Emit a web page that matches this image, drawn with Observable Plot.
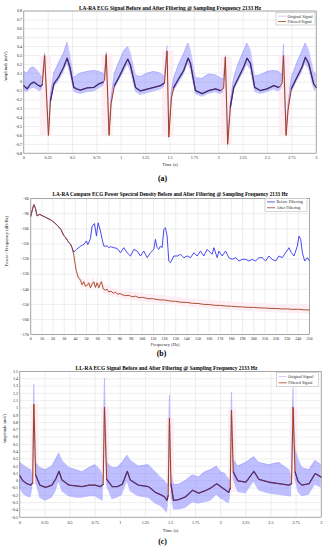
<!DOCTYPE html>
<html><head><meta charset="utf-8">
<script src="https://cdn.jsdelivr.net/npm/d3@7"></script>
<script src="https://cdn.jsdelivr.net/npm/@observablehq/plot@0.6"></script>
<style>
body{margin:0;background:#fff}
#wrap{position:relative;width:325px;height:550px;overflow:hidden}
#wrap svg{position:absolute;left:0}
</style>
</head><body><div id="wrap"></div>
<script>
// ---------------- Panel (a): LA-RA ECG ----------------
const titleA = "LA-RA ECG Signal Before and After Filtering @ Sampling Frequency 2133 Hz";
const timeA = [0,0.034,0.07,0.103,0.14,0.17,0.19,0.214,0.253,0.274,0.308,0.359,0.41,0.445,0.472,0.513,0.55,0.581,0.65,0.718,0.77,0.814,0.828,0.846,0.875,0.896,0.93,0.974,1.026,1.067,1.094,1.146,1.197,1.265,1.334,1.402,1.443,1.47,1.488,1.515,1.539,1.59,1.64,1.686,1.71,1.761,1.83,1.898,1.966,2.017,2.05,2.068,2.092,2.12,2.154,2.205,2.256,2.29,2.325,2.369,2.427,2.496,2.564,2.615,2.65,2.665,2.691,2.711,2.745,2.803,2.855,2.889,2.923,2.974,3.0];
const filteredA = [-0.04,-0.075,-0.02,0.0,-0.03,-0.05,-0.03,0.30,-0.60,-0.21,-0.02,0.06,0.17,0.27,0.17,-0.06,-0.08,-0.09,-0.065,-0.06,-0.02,0.0,0.02,0.31,-0.60,-0.24,-0.04,0.05,0.17,0.26,0.19,-0.06,-0.10,-0.08,-0.06,-0.04,-0.01,0.35,-0.62,-0.17,-0.06,0.04,0.13,0.27,0.21,-0.095,-0.13,-0.095,-0.076,-0.095,-0.07,0.28,-0.70,-0.28,-0.06,0.055,0.17,0.27,0.21,-0.06,-0.095,-0.076,-0.04,-0.06,-0.02,0.30,-0.60,-0.32,-0.076,0.055,0.17,0.28,0.21,-0.02,-0.06];
const origLowA = [-0.10,-0.12,-0.08,-0.07,-0.09,-0.11,-0.08,0.26,-0.65,-0.28,-0.07,0.0,0.10,0.20,0.10,-0.11,-0.13,-0.14,-0.12,-0.11,-0.08,-0.05,-0.03,0.27,-0.64,-0.30,-0.09,0.0,0.10,0.19,0.12,-0.11,-0.15,-0.13,-0.11,-0.09,-0.06,0.30,-0.68,-0.24,-0.11,-0.02,0.07,0.20,0.14,-0.14,-0.17,-0.14,-0.12,-0.14,-0.12,0.24,-0.78,-0.34,-0.11,0.0,0.10,0.19,0.14,-0.11,-0.14,-0.12,-0.09,-0.11,-0.07,0.26,-0.65,-0.38,-0.13,0.0,0.10,0.20,0.14,-0.08,-0.11];
const origHighA = [0.12,0.10,0.16,0.17,0.13,0.08,0.05,0.33,-0.55,-0.14,0.10,0.22,0.33,0.45,0.32,0.05,0.08,0.10,0.12,0.13,0.12,0.10,0.08,0.34,-0.56,-0.18,0.10,0.22,0.35,0.40,0.33,0.08,0.06,0.10,0.12,0.10,0.06,0.41,-0.58,-0.10,0.05,0.20,0.32,0.44,0.36,0.05,0.04,0.09,0.08,0.05,0.03,0.30,-0.64,-0.22,0.05,0.22,0.35,0.44,0.36,0.07,0.08,0.12,0.13,0.12,0.08,0.43,-0.55,-0.26,0.05,0.22,0.35,0.44,0.36,0.12,0.08];
const rPeaksA = [0.214,0.846,1.47,2.068,2.665];
const yTicksA = [-0.8,-0.7,-0.6,-0.5,-0.4,-0.3,-0.2,-0.1,0,0.1,0.2,0.3,0.4,0.5,0.6,0.7,0.8];
const timeTicks = [0,0.25,0.5,0.75,1,1.25,1.5,1.75,2,2.25,2.5,2.75,3];

// ---------------- Panel (b): PSD ----------------
const titleB = "LA-RA Compare ECG Power Spectral Density Before and After Filtering @ Sampling Frequency 2133 Hz";
const freqBefore = [0,1.5,2.7,4,5.7,7,8.1,10,13,17.7,21,25.2,27,29.6,31,34,35.5,37,38.6,41,44.6,47.6,49.9,51.1,53.5,55,57.1,58.9,60.4,62.5,64,65.5,68.5,70,71.5,74.5,77.5,80.4,83.4,86.4,89.4,92.4,95.4,98.4,101.4,104.4,107.4,110.3,111.8,113.3,114.8,116.3,117.8,119.3,120.8,122.3,123.8,125.3,128.3,131.3,134.3,137.3,140.3,143.3,146.3,149.2,152.2,155.2,158.2,159.7,162.7,164.2,167.2,168.7,171.7,174.7,177.7,180.7,183.7,186.7,189.7,192.7,195.7,198.6,201.6,204.6,207.6,210.6,213.6,216.6,219.6,222.6,225.6,228.6,231.6,233.7,236.1,239.1,240.6,242.1,243.6,245.7,248,250];
const psdBefore = [-91.6,-87,-84,-86,-91.5,-90.8,-90.5,-91.2,-92.3,-94,-95.8,-98.8,-100.5,-104.5,-105.5,-109,-110,-112.5,-115.4,-113.6,-111.5,-110.3,-108,-110.5,-106.5,-98.2,-96.5,-104.8,-96,-101.5,-107,-111.4,-111.4,-112.5,-111.8,-112.5,-113,-115.8,-112.5,-115.8,-118,-113.6,-114.7,-118,-114.7,-119.1,-115.8,-113.6,-107,-112.5,-113.6,-111.4,-112.5,-100.4,-99.3,-104.8,-121.3,-122.4,-118,-118,-116.9,-119.1,-118,-119.1,-115.8,-118,-114.7,-118,-113.6,-114.7,-116.9,-112.5,-119.1,-114.7,-118,-114.7,-119.1,-120.2,-119.1,-121.3,-120.2,-120.2,-121.3,-120.2,-121.3,-119.1,-119.1,-121.3,-118,-120.2,-121.3,-118,-119.1,-115.8,-112.5,-115.8,-118,-111.4,-104.8,-107,-115.8,-121.3,-119.1,-121.3];
const freqAfter = [0,1.5,2.7,4,5.7,7,8.1,10,13,17.7,21,25.2,27,29.6,31,34,35.5,37,38.6,39.5,40.7,42.5,44.6,46,47.5,49,50.5,52,53.5,55,56.5,58,59.5,61,62.5,63.4,65,67,68.5,70,72,74,76,78,80,82,85,88,91,94,97,100,105,110,115,120,125,130,135,140,145,150,155,160,165,170,175,180,185,190,195,200,205,210,215,220,225,230,235,240,245,250];
const psdAfter = [-91.6,-87,-84,-86,-91.5,-90.8,-90.5,-91.2,-92.3,-94,-95.8,-98.8,-100.5,-104.5,-105.5,-109,-110,-112.5,-117.5,-122,-127.6,-132,-134,-137,-135,-138,-137.5,-135.7,-139,-136.5,-135,-138.8,-135.7,-139,-136,-135,-139.8,-140.5,-140,-141.8,-141.2,-142.6,-142,-143.3,-142.8,-143.6,-144.2,-144,-145,-144.6,-145.6,-145.3,-146.2,-146.3,-147,-147.1,-147.8,-148,-148.6,-148.7,-149.3,-149.4,-150,-150.1,-150.6,-150.7,-151.1,-151.2,-151.6,-151.7,-152,-152,-152.3,-152.4,-152.7,-152.7,-153,-153,-153.3,-153.2,-153.6,-153.7];
const freqTicks = [0,10,20,30,40,50,60,70,80,90,100,110,120,130,140,150,160,170,180,190,200,210,220,230,240,250];
const psdTicks = [-170,-160,-150,-140,-130,-120,-110,-100,-90,-80];

// ---------------- Panel (c): LL-RA ECG ----------------
const titleC = "LL-RA ECG Signal Before and After Filtering @ Sampling Frequency 2133 Hz";
const timeC = [0,0.03,0.07,0.11,0.128,0.14,0.158,0.2,0.255,0.32,0.36,0.39,0.42,0.49,0.56,0.62,0.69,0.75,0.8,0.83,0.843,0.865,0.92,0.97,1.02,1.07,1.1,1.18,1.28,1.35,1.4,1.44,1.465,1.477,1.49,1.505,1.53,1.58,1.65,1.72,1.78,1.84,1.9,1.96,2.0,2.04,2.08,2.095,2.107,2.125,2.17,2.25,2.33,2.38,2.48,2.58,2.68,2.705,2.72,2.74,2.77,2.81,2.88,2.94,3.0];
const filteredC = [0.07,0.0,-0.04,-0.06,-0.03,1.05,0.08,-0.06,-0.09,-0.06,0.03,0.13,0.01,-0.06,-0.07,-0.08,-0.06,-0.06,-0.08,-0.05,1.01,0.02,-0.08,-0.08,-0.05,0.13,0.01,-0.06,-0.08,-0.16,-0.19,-0.22,-0.27,-0.20,0.86,-0.05,-0.27,-0.26,-0.22,-0.13,-0.17,-0.14,-0.10,-0.04,-0.08,-0.12,-0.16,-0.10,0.97,0.12,0.0,-0.02,0.13,0.02,-0.02,-0.04,-0.06,-0.04,1.01,0.12,-0.01,-0.06,-0.04,0.10,0.05];
const origLowC = [-0.10,-0.18,-0.22,-0.24,-0.12,0.98,-0.02,-0.24,-0.28,-0.24,-0.15,-0.02,-0.15,-0.22,-0.24,-0.24,-0.22,-0.22,-0.26,-0.28,0.95,-0.08,-0.26,-0.24,-0.20,-0.02,-0.15,-0.22,-0.24,-0.32,-0.35,-0.40,-0.45,-0.36,0.80,-0.20,-0.40,-0.40,-0.38,-0.30,-0.32,-0.30,-0.28,-0.20,-0.25,-0.28,-0.32,-0.25,0.90,0.02,-0.16,-0.18,-0.02,-0.14,-0.18,-0.20,-0.22,-0.22,0.95,0.02,-0.16,-0.22,-0.20,-0.06,-0.10];
const origHighC = [0.25,0.22,0.18,0.15,0.05,1.33,0.25,0.18,0.15,0.20,0.30,0.38,0.28,0.18,0.15,0.12,0.18,0.22,0.15,0.05,1.41,0.25,0.18,0.18,0.25,0.35,0.28,0.20,0.22,0.12,0.05,0.0,-0.05,-0.05,1.18,0.10,-0.05,-0.05,0.0,0.08,0.05,0.12,0.15,0.20,0.12,0.10,0.02,0.0,1.22,0.30,0.20,0.25,0.33,0.25,0.22,0.25,0.15,0.05,1.28,0.45,0.30,0.18,0.15,0.28,0.22];
const rPeaksC = [0.14,0.843,1.49,2.107,2.72];
const yTicksC = [-0.5,-0.4,-0.3,-0.2,-0.1,0,0.1,0.2,0.3,0.4,0.5,0.6,0.7,0.8,0.9,1,1.1,1.2,1.3,1.4,1.5];

// ---------------- Styles ----------------
const FONT = "'Liberation Serif','Times New Roman',serif";
const BAND = "#8080ff", CORE = "#2c2282", RED = "#a43e1c", BLUE = "#3434ee", PINK = "#fdeef4";
const GRID = "#dddddd", FRAME = "#7a7a7a", TXT = "#262626";
const fmt = d => String(+d.toFixed(2));

function addLegend(svg, x, y, w, h, items) {
  const s = d3.select(svg);
  const g = s.append("g").attr("font-family", FONT).style("font-size", "4.1px")
    .attr("fill", TXT).attr("text-anchor", "start");
  g.append("rect").attr("x", x).attr("y", y).attr("width", w).attr("height", h)
    .attr("fill", "white").attr("stroke", "#9a9a9a").attr("stroke-width", 0.4);
  items.forEach((it, i) => {
    const cy = y + h * (i + 0.5) / items.length + (i === 0 ? 0.4 : -0.4);
    g.append("line").attr("x1", x + 2).attr("x2", x + 10).attr("y1", cy).attr("y2", cy)
      .attr("stroke", it.color).attr("stroke-width", it.width);
    g.append("text").attr("x", x + 11.5).attr("y", cy).attr("dy", "0.35em")
      .attr("text-anchor", "start").text(it.label);
  });
}

function ecgPanel(o) {
  const rows = o.time.map((t, i) => ({t, f: o.filt[i], lo: o.lo[i], hi: o.hi[i]}));
  const inQRS = t => o.peaks.some(p => t >= p - o.win[0] && t <= p + o.win[1]);
  const bands = o.peaks.map(p => {
    const near = rows.filter(r => r.t >= p - 0.04 && r.t <= p + 0.06);
    return {x1: p - o.pink[0], x2: p + o.pink[1], y1: d3.min(near, r => r.f), y2: d3.max(near, r => r.f)};
  });
  const fw = 325 - o.ml - o.mr;
  const fc = o.ml + fw / 2;
  const svg = Plot.plot({
    width: 325, height: o.height,
    marginTop: o.mt, marginBottom: o.mb, marginLeft: o.ml, marginRight: o.mr,
    style: {fontFamily: FONT, fontSize: "4.2px", background: "transparent", color: TXT},
    x: {domain: [0, 3]},
    y: {domain: o.ydom},
    marks: [
      Plot.gridX(timeTicks, {stroke: GRID, strokeOpacity: 1, strokeWidth: 0.5}),
      Plot.gridY(o.yticks, {stroke: GRID, strokeOpacity: 1, strokeWidth: 0.5}),
      Plot.rect(bands, {x1: "x1", x2: "x2", y1: "y1", y2: "y2", fill: PINK}),
      Plot.areaY(rows, {x: "t", y1: "lo", y2: "hi", fill: BAND, fillOpacity: o.bandOpacity}),
      Plot.lineY(rows, {x: "t", y: "hi", stroke: BAND, strokeWidth: 0.4, strokeOpacity: 0.8}),
      Plot.lineY(rows, {x: "t", y: "f", stroke: RED, strokeWidth: 1}),
      Plot.lineY(rows, {x: "t", y: d => inQRS(d.t) ? NaN : d.f, stroke: o.core, strokeWidth: 1.3, strokeOpacity: 0.85}),
      Plot.frame({stroke: FRAME, strokeWidth: 0.6}),
      Plot.axisX(timeTicks, {tickSize: 0, tickPadding: o.xpad, tickFormat: fmt, label: null, fontSize: 4.2}),
      Plot.axisY(o.yticks, {tickSize: 0, tickPadding: o.ypad, tickFormat: fmt, label: null, fontSize: 4.2}),
      Plot.text([o.title], {text: d => d, frameAnchor: "top", dy: o.titleDy, dx: o.titleDx, fontSize: 5.4, fontWeight: "bold", fill: "black"}),
      Plot.text(["Time (s)"], {text: d => d, frameAnchor: "bottom", dy: o.xlabDy, fontSize: 4.6, fill: TXT}),
      Plot.text(["Amplitude (mV)"], {text: d => d, frameAnchor: "left", dx: o.ylabDx, rotate: -90, fontSize: 4.6, fill: TXT}),
      Plot.text([o.caption], {text: d => d, frameAnchor: "bottom", dy: o.capDy, dx: 162 - fc, fontSize: 7.8, fontWeight: "bold", fill: "black"})
    ]
  });
  svg.style.top = o.top + "px";
  addLegend(svg, o.leg[0], o.leg[1], o.leg[2], o.leg[3], [
    {label: "Original Signal", color: "#b58cff", width: 0.5},
    {label: "Filtered Signal", color: RED, width: 0.8}
  ]);
  return svg;
}

const wrap = document.getElementById("wrap");

wrap.appendChild(ecgPanel({
  title: titleA, caption: "(a)", top: 0, height: 187,
  mt: 10.5, mb: 34.3, ml: 23.3, mr: 9.3,
  time: timeA, filt: filteredA, lo: origLowA, hi: origHighA, peaks: rPeaksA,
  win: [0.02, 0.05], pink: [0.045, 0.07], core: CORE, bandOpacity: 0.45,
  ydom: [-0.8, 0.8], yticks: yTicksA,
  xpad: 3, ypad: 1.6, titleDy: -5, titleDx: 0, xlabDy: 12.3, ylabDx: -17.8, capDy: 28,
  leg: [276, 12.7, 39, 12.3]
}));

// Panel (b)
{
  const before = freqBefore.map((f, i) => ({f, v: psdBefore[i]}));
  const after = freqAfter.map((f, i) => ({f, v: psdAfter[i]}));
  const halo = after.filter(d => d.f >= 40);
  const ml = 30.3, mr = 16;
  const fc = ml + (325 - ml - mr) / 2;
  const svg = Plot.plot({
    width: 325, height: 175,
    marginTop: 13.1, marginBottom: 25.9, marginLeft: ml, marginRight: mr,
    style: {fontFamily: FONT, fontSize: "4.2px", background: "transparent", color: TXT},
    x: {domain: [0, 250]},
    y: {domain: [-170, -80]},
    marks: [
      Plot.gridX(freqTicks, {stroke: GRID, strokeOpacity: 1, strokeWidth: 0.5}),
      Plot.gridY(psdTicks, {stroke: GRID, strokeOpacity: 1, strokeWidth: 0.5}),
      Plot.areaY(halo, {x: "f", y1: d => d.v - 2.8, y2: d => d.v + 2.8, fill: PINK}),
      Plot.lineY(before, {x: "f", y: "v", stroke: BLUE, strokeWidth: 0.9}),
      Plot.lineY(after, {x: "f", y: "v", stroke: RED, strokeWidth: 0.9}),
      Plot.frame({stroke: FRAME, strokeWidth: 0.6}),
      Plot.axisX(freqTicks, {tickSize: 0, tickPadding: 2.5, label: null, fontSize: 4}),
      Plot.axisY(psdTicks, {tickSize: 0, tickPadding: 2, label: null, fontSize: 4}),
      Plot.text([titleB], {text: d => d, frameAnchor: "top", dy: -6.4, fontSize: 5.2, fontWeight: "bold", fill: "black"}),
      Plot.text(["Frequency (Hz)"], {text: d => d, frameAnchor: "bottom", dy: 11, dx: -5, fontSize: 4.6, fill: TXT}),
      Plot.text(["Power / Frequency (dB/Hz)"], {text: d => d, frameAnchor: "left", dx: -24, rotate: -90, fontSize: 4.6, fill: TXT}),
      Plot.text(["(b)"], {text: d => d, frameAnchor: "bottom", dy: 21.6, dx: 161 - fc, fontSize: 7.8, fontWeight: "bold", fill: "black"})
    ]
  });
  svg.style.top = "185px";
  addLegend(svg, 265, 13.2, 42, 13.3, [
    {label: "Before Filtering", color: BLUE, width: 0.8},
    {label: "After Filtering", color: RED, width: 0.8}
  ]);
  wrap.appendChild(svg);
}

// Panel (c)
wrap.appendChild(ecgPanel({
  title: titleC, caption: "(c)", top: 360, height: 190,
  mt: 11, mb: 33.3, ml: 19.3, mr: 4.3,
  time: timeC, filt: filteredC, lo: origLowC, hi: origHighC, peaks: rPeaksC,
  win: [0.008, 0.008], pink: [0.03, 0.05], core: "#4a2a7a", bandOpacity: 0.5,
  ydom: [-0.5, 1.5], yticks: yTicksC,
  xpad: 4, ypad: 1.6, titleDy: -5.5, titleDx: -4, xlabDy: 14.3, ylabDx: -15.5, capDy: 26.5,
  leg: [276.7, 12.7, 42, 14]
}));
</script>
</body></html>
